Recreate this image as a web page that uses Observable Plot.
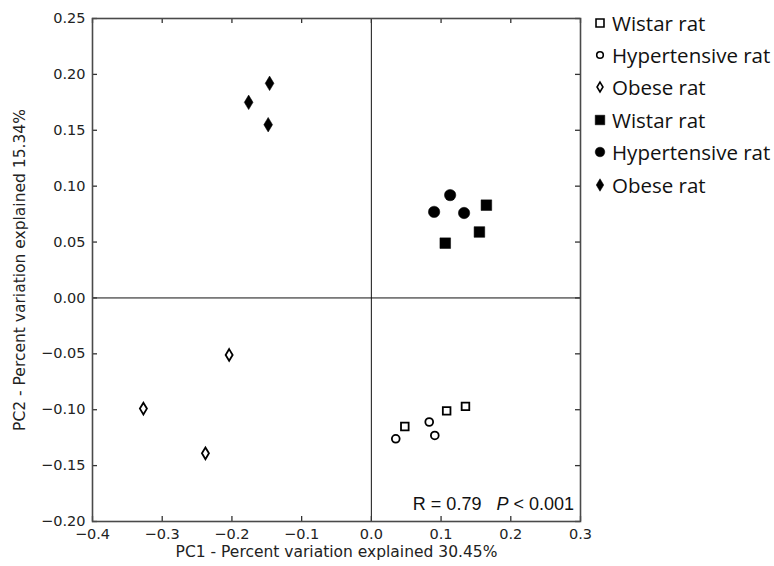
<!DOCTYPE html>
<html><head><meta charset="utf-8">
<script src="https://cdn.jsdelivr.net/npm/d3@7"></script>
<script src="https://cdn.jsdelivr.net/npm/@observablehq/plot@0.6"></script>
<style>
body{margin:0;background:#fff;}
#wrap{position:relative;width:774px;height:566px;overflow:hidden;}
#legend{position:absolute;left:593px;top:0;font-family:"Open Sans";font-size:20.5px;color:#111;}
.row{position:absolute;left:0;display:flex;align-items:center;height:30px;white-space:nowrap;}
.row svg{margin-right:5px;}
#stat{position:absolute;right:200px;top:495px;font-family:"Liberation Sans",Arial,sans-serif;font-size:18px;line-height:18px;color:#111;white-space:pre;}
</style></head><body><div id="wrap"></div>
<script>
// ---- data ----
const xTicks = [-0.4, -0.3, -0.2, -0.1, 0.0, 0.1, 0.2, 0.3];
const yTicks = [-0.20, -0.15, -0.10, -0.05, 0.00, 0.05, 0.10, 0.15, 0.20, 0.25];
const legendLabels = ["Wistar rat", "Hypertensive rat", "Obese rat", "Wistar rat", "Hypertensive rat", "Obese rat"];

const wistarOpenPC1 = [0.048, 0.108, 0.135];
const wistarOpenPC2 = [-0.115, -0.101, -0.097];
const hyperOpenPC1 = [0.035, 0.083, 0.091];
const hyperOpenPC2 = [-0.126, -0.111, -0.123];
const obeseOpenPC1 = [-0.327, -0.204, -0.238];
const obeseOpenPC2 = [-0.099, -0.051, -0.139];
const wistarFilledPC1 = [0.106, 0.155, 0.165];
const wistarFilledPC2 = [0.049, 0.059, 0.083];
const hyperFilledPC1 = [0.090, 0.113, 0.133];
const hyperFilledPC2 = [0.077, 0.092, 0.076];
const obeseFilledPC1 = [-0.176, -0.146, -0.148];
const obeseFilledPC2 = [0.175, 0.192, 0.155];

const xLabel = "PC1 - Percent variation explained 30.45%";
const yLabel = "PC2 - Percent variation explained 15.34%";

// ---- helpers ----
const pts = (xs, ys) => xs.map((x, i) => ({x, y: ys[i]}));
const thinDiamond = {
  draw(ctx, size) {
    const r = Math.sqrt(size / Math.PI);
    const h = r * 1.3, w = r * 0.78;
    ctx.moveTo(0, -h); ctx.lineTo(w, 0); ctx.lineTo(0, h); ctx.lineTo(-w, 0); ctx.closePath();
  }
};
const groups = [
  {data: pts(wistarOpenPC1, wistarOpenPC2), symbol: "square", fill: false, r: 4.3, lr: 4.5},
  {data: pts(hyperOpenPC1, hyperOpenPC2), symbol: "circle", fill: false, r: 3.9, lr: 3.3},
  {data: pts(obeseOpenPC1, obeseOpenPC2), symbol: thinDiamond, fill: false, r: 4.5, lr: 3.8},
  {data: pts(wistarFilledPC1, wistarFilledPC2), symbol: "square", fill: true, r: 6.0, lr: 5.4},
  {data: pts(hyperFilledPC1, hyperFilledPC2), symbol: "circle", fill: true, r: 5.7, lr: 4.8},
  {data: pts(obeseFilledPC1, obeseFilledPC2), symbol: thinDiamond, fill: true, r: 5.6, lr: 4.8}
];

const W = 774, H = 566, mL = 92, mR = 194, mT = 18, mB = 45;
const innerH = H - mT - mB, innerW = W - mL - mR;
const tk = 5;

const marks = [
  Plot.ruleX([0], {stroke: "#111", strokeWidth: 1}),
  Plot.ruleY([0], {stroke: "#111", strokeWidth: 1}),
  Plot.tickX(xTicks, {x: d => d, insetTop: innerH - tk, stroke: "#333", strokeWidth: 1.3}),
  Plot.tickX(xTicks, {x: d => d, insetBottom: innerH - tk, stroke: "#333", strokeWidth: 1.3}),
  Plot.tickY(yTicks, {y: d => d, insetRight: innerW - tk, stroke: "#333", strokeWidth: 1.3}),
  Plot.tickY(yTicks, {y: d => d, insetLeft: innerW - tk, stroke: "#333", strokeWidth: 1.3}),
  Plot.axisX({ticks: xTicks, tickSize: 0, tickPadding: 7, tickFormat: d3.format(".1f"), label: null, fontSize: 14.5}),
  Plot.axisY({ticks: yTicks, tickSize: 0, tickPadding: 7, tickFormat: d3.format(".2f"), label: null, fontSize: 14.5}),
  Plot.frame({stroke: "#4a4a4a", strokeWidth: 1.6}),
  Plot.text([xLabel], {frameAnchor: "bottom", dy: 31, lineAnchor: "middle", textAnchor: "middle", fontSize: 15.5, fill: "#222"}),
  Plot.text([yLabel], {frameAnchor: "left", rotate: -90, dx: -72, lineAnchor: "middle", textAnchor: "middle", fontSize: 15.5, fill: "#222"})
];
for (const g of groups) {
  marks.push(Plot.dot(g.data, {
    x: "x", y: "y", symbol: g.symbol, r: g.r,
    fill: g.fill ? "#000" : "#fff",
    stroke: "#000", strokeWidth: g.fill ? 0.5 : 1.8
  }));
}

const chart = Plot.plot({
  width: W, height: H,
  marginLeft: mL, marginRight: mR, marginTop: mT, marginBottom: mB,
  x: {domain: [-0.4, 0.3]},
  y: {domain: [-0.2, 0.25]},
  style: {fontFamily: "DejaVu Sans", fontSize: "14.5px", color: "#222", background: "#fff"},
  marks
});

const wrap = document.getElementById("wrap");
wrap.appendChild(chart);

// legend
const legend = document.createElement("div");
legend.id = "legend";
const symType = s => s === "square" ? d3.symbolSquare : s === "circle" ? d3.symbolCircle : thinDiamond;
groups.forEach((g, i) => {
  const row = document.createElement("div");
  row.className = "row";
  row.style.top = (22.5 + i * 32.4 - 15) + "px";
  const path = d3.symbol().type(symType(g.symbol)).size(Math.PI * g.lr * g.lr)();
  row.innerHTML = `<svg width="14" height="16" viewBox="-7 -8 14 16"><path d="${path}" fill="${g.fill ? "#000" : "#fff"}" stroke="#000" stroke-width="${g.fill ? 0.5 : 1.6}"/></svg><span>${legendLabels[i]}</span>`;
  legend.appendChild(row);
});
wrap.appendChild(legend);

const stat = document.createElement("div");
stat.id = "stat";
stat.innerHTML = "R = 0.79   <i>P</i> &lt; 0.001";
wrap.appendChild(stat);
</script>
</body></html>
